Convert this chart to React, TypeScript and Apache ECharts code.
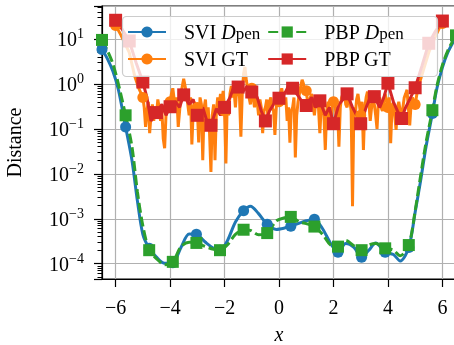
import React, { useEffect, useRef } from "react";
import * as echarts from "echarts";

const FONT = "Liberation Serif";

// D_pen curves (shared x grid)
const dpenX = [-6.5, -6.3, -6.1, -5.9, -5.633, -5.4, -5.2, -5.0, -4.767, -4.5, -4.2, -3.9, -3.6, -3.3, -3.033, -2.7, -2.4, -2.167, -1.9, -1.6, -1.3, -1.05, -0.75, -0.433, -0.1, 0.2, 0.433, 0.75, 1.0, 1.3, 1.6, 1.9, 2.167, 2.45, 2.75, 3.033, 3.3, 3.55, 3.9, 4.2, 4.45, 4.767, 5.0, 5.2, 5.4, 5.633, 5.8, 6.0, 6.2, 6.5];
const sviDpen = [5.8, 3.6, 1.9, 0.75, 0.11, 0.02, 0.0025, 4.5e-4, 2.2e-4, 1.4e-4, 1.02e-4, 1.05e-4, 2.3e-4, 4.6e-4, 4.5e-4, 3.0e-4, 2.2e-4, 2.0e-4, 3.2e-4, 8.5e-4, 1.5e-3, 1.9e-3, 1.3e-3, 7.5e-4, 5.8e-4, 6.2e-4, 6.8e-4, 8.0e-4, 9.0e-4, 9.8e-4, 6.0e-4, 2.8e-4, 1.8e-4, 2.8e-4, 2.3e-4, 1.4e-4, 2.0e-4, 2.9e-4, 1.8e-4, 1.6e-4, 1.15e-4, 2.3e-4, 1.4e-3, 0.007, 0.04, 0.22, 0.8, 2.3, 5, 11];
const pbpDpen = [9.5, 5.5, 2.8, 1.0, 0.2, 0.04, 0.004, 7e-4, 2.0e-4, 1.3e-4, 9.5e-5, 1.1e-4, 2.4e-4, 3.0e-4, 2.9e-4, 2.4e-4, 2.1e-4, 2.0e-4, 2.6e-4, 4.5e-4, 5.7e-4, 5.5e-4, 4.4e-4, 4.8e-4, 9.0e-4, 1.05e-3, 1.1e-3, 8.5e-4, 7.8e-4, 6.7e-4, 4.5e-4, 2.6e-4, 2.4e-4, 3.3e-4, 2.5e-4, 2.0e-4, 2.6e-4, 2.8e-4, 2.2e-4, 2.0e-4, 1.5e-4, 2.6e-4, 1.5e-3, 0.009, 0.05, 0.26, 0.9, 2.6, 5.5, 12];
const dpenMarkX = [-6.5, -5.633, -4.767, -3.9, -3.033, -2.167, -1.3, -0.433, 0.433, 1.3, 2.167, 3.033, 3.9, 4.767, 5.633, 6.5];

// SVI ground truth
const sviGtX = [
  -6, -5.8, -5.5, -5.3, -5.15,
  -5, -4.95, -4.9, -4.85, -4.8, -4.75, -4.7, -4.65, -4.6, -4.55,
  -4.5, -4.45, -4.4, -4.35, -4.3, -4.25, -4.2, -4.15, -4.1, -4.05,
  -4, -3.95, -3.9, -3.85, -3.8, -3.75, -3.7, -3.65, -3.6, -3.55,
  -3.5, -3.45, -3.4, -3.35, -3.3, -3.25, -3.2, -3.15, -3.1, -3.05,
  -3, -2.95, -2.9, -2.85, -2.8, -2.75, -2.7, -2.65, -2.6, -2.55,
  -2.5, -2.45, -2.4, -2.35, -2.3, -2.25, -2.2, -2.15, -2.1, -2.05,
  -2, -1.95, -1.9, -1.85, -1.8, -1.75, -1.7, -1.65, -1.6, -1.55,
  -1.5, -1.45, -1.4, -1.35, -1.3, -1.25, -1.2, -1.15, -1.1, -1.05,
  -1, -0.95, -0.9, -0.85, -0.8, -0.75, -0.7, -0.65, -0.6, -0.55,
  -0.5, -0.45, -0.4, -0.35, -0.3, -0.25, -0.2, -0.15, -0.1, -0.05,
  0, 0.05, 0.1, 0.15, 0.2, 0.25, 0.3, 0.35, 0.4, 0.45,
  0.5, 0.55, 0.6, 0.65, 0.7, 0.75, 0.8, 0.85, 0.9, 0.95,
  1, 1.05, 1.1, 1.15, 1.2, 1.25, 1.3, 1.35, 1.4, 1.45,
  1.5, 1.55, 1.6, 1.65, 1.7, 1.75, 1.8, 1.85, 1.9, 1.95,
  2, 2.05, 2.1, 2.15, 2.2, 2.25, 2.3, 2.35, 2.4, 2.45,
  2.5, 2.55, 2.6, 2.65, 2.7, 2.75, 2.8, 2.85, 2.9, 2.95,
  3, 3.05, 3.1, 3.15, 3.2, 3.25, 3.3, 3.35, 3.4, 3.45,
  3.5, 3.55, 3.6, 3.65, 3.7, 3.75, 3.8, 3.85, 3.9, 3.95,
  4, 4.05, 4.1, 4.15, 4.2, 4.25, 4.3, 4.35, 4.4, 4.45,
  4.5, 4.55, 4.6, 4.65, 4.7, 4.75, 4.8, 4.85, 4.9, 4.95,
  5, 5.1, 5.3, 5.5, 5.7, 5.9, 6,
];
const sviGt = [
  20, 12, 5, 1.5, 0.8,
  0.5, 0.3, 0.11, 0.25, 0.4, 0.08, 0.2, 0.35, 0.15, 0.3,
  0.2, 0.45, 0.3, 0.15, 0.25, 0.06, 0.037, 0.2, 0.35, 0.25,
  0.4, 0.6, 0.8, 0.45, 0.3, 0.5, 0.11, 0.25, 0.6, 0.9,
  1.3, 0.9, 0.6, 0.35, 0.2, 0.5, 0.045, 0.25, 0.4, 0.15,
  0.3, 0.05, 0.5, 0.35, 0.02, 0.3, 0.45, 0.12, 0.3, 0.08,
  0.011, 0.2, 0.35, 0.02, 0.25, 0.5, 0.3, 0.6, 0.4, 0.7,
  0.25, 0.017, 0.4, 0.2, 0.6, 0.9, 0.5, 0.7, 0.3, 0.8,
  1.0, 0.5, 0.067, 0.6, 1.7, 2.4, 1.2, 0.8, 0.5, 0.35,
  0.8, 0.5, 0.3, 0.6, 0.4, 0.2, 0.45, 0.3, 0.08, 0.25,
  0.3, 0.45, 0.15, 0.4, 0.5, 0.3, 0.25, 0.073, 0.3, 0.5,
  0.4, 0.6, 0.8, 0.5, 0.35, 0.5, 0.15, 0.3, 0.049, 0.25,
  0.3, 0.5, 0.023, 0.2, 0.4, 0.6, 0.9, 1.23, 1.0, 0.6,
  0.7, 0.4, 0.3, 0.5, 0.6, 0.35, 0.2, 0.4, 0.5, 0.3,
  0.08, 0.3, 0.45, 0.2, 0.034, 0.25, 0.4, 0.2, 0.1, 0.3,
  0.4, 0.5, 0.15, 0.3, 0.04, 0.3, 0.5, 0.6, 0.7, 0.35,
  0.3, 0.5, 0.45, 0.25, 0.0019, 0.3, 0.2, 0.45, 0.6, 0.35,
  0.2, 0.4, 0.034, 0.3, 0.5, 0.67, 0.4, 0.15, 0.3, 0.5,
  0.35, 0.2, 0.1, 0.4, 0.5, 0.3, 0.25, 0.45, 0.6, 0.4,
  0.3, 0.5, 0.048, 0.3, 0.4, 0.2, 0.095, 0.3, 0.4, 0.25,
  0.15, 0.3, 0.5, 0.6, 0.74, 0.3, 0.12, 0.35, 0.5, 0.4,
  0.35, 0.8, 2, 5, 10, 18, 22,
];
const sviGtMarkX = [-6, -5, -4, -3, -2, -1, 0, 1, 2, 3, 4, 5, 6];

// PBP ground truth
const pbpGtX = [-6, -5.75, -5.5, -5.25, -5, -4.85, -4.7, -4.5, -4.3, -4.15, -4, -3.8, -3.65, -3.5, -3.3, -3.15, -3, -2.8, -2.65, -2.5, -2.3, -2.15, -2, -1.8, -1.65, -1.5, -1.3, -1.15, -1, -0.8, -0.65, -0.5, -0.35, -0.2, 0, 0.2, 0.35, 0.5, 0.7, 0.85, 1, 1.2, 1.35, 1.5, 1.7, 1.85, 2, 2.2, 2.35, 2.5, 2.7, 2.85, 3, 3.2, 3.35, 3.5, 3.7, 3.85, 4, 4.2, 4.35, 4.5, 4.65, 4.8, 5, 5.25, 5.5, 5.75, 6];
const pbpGt = [26, 16, 9, 3, 1.1, 0.5, 0.15, 0.23, 0.35, 0.2, 0.31, 0.4, 0.3, 0.57, 0.35, 0.45, 0.2, 0.3, 0.15, 0.12, 0.28, 0.2, 0.3, 0.5, 0.9, 0.85, 0.7, 0.9, 0.66, 0.5, 0.25, 0.15, 0.25, 0.35, 0.48, 0.6, 0.9, 0.8, 0.55, 0.4, 0.33, 0.5, 0.3, 0.42, 0.2, 0.3, 0.13, 0.35, 0.45, 0.6, 0.3, 0.2, 0.13, 0.3, 0.5, 0.52, 0.3, 0.5, 1.04, 0.4, 0.25, 0.17, 0.3, 0.45, 0.82, 2.5, 8, 15, 25];
const pbpGtMarkX = [-6, -5.5, -5, -4.5, -4, -3.5, -3, -2.5, -2, -1.5, -1, -0.5, 0, 0.5, 1, 1.5, 2, 2.5, 3, 3.5, 4, 4.5, 5, 5.5, 6];

const xTicks = [-6, -4, -2, 0, 2, 4, 6];
const seriesNames = ["SVI D_pen", "SVI GT", "PBP D_pen", "PBP GT"];
const colors = ["#1f77b4", "#ff7f0e", "#2ca02c", "#d62728"];

function build(xs: number[], ys: number[], marks: number[]) {
  return xs.map((x, i) =>
    marks.includes(x) ? { value: [x, ys[i]] } : { value: [x, ys[i]], symbol: "none" }
  );
}

const minus = (s: string) => s.replace("-", "\u2212");

export default function App() {
  const ref = useRef<HTMLDivElement>(null);
  useEffect(() => {
    const chart = echarts.init(ref.current!, undefined, { renderer: "svg" });
    const legendRich = {
      g: { width: 13, lineHeight: 20 },
      n: { fontFamily: FONT, fontSize: 20, color: "#000", lineHeight: 20 },
      it: { fontFamily: FONT, fontSize: 20, fontStyle: "italic", color: "#000", lineHeight: 20 },
      sub: { fontFamily: FONT, fontSize: 17, color: "#000", lineHeight: 12, verticalAlign: "bottom" },
    };
    const legendFmt = (name: string) => {
      const [a, b] = name.split(" ");
      if (b === "D_pen") return `{g|}{n|${a} }{it|D}{sub|pen}`;
      return `{g|}{n|${a} ${b}}`;
    };
    const common = {
      type: "line",
      showAllSymbol: true,
      lineStyle: { width: 3 },
      emphasis: { disabled: true },
      z: 2,
    };
    chart.setOption({
      animation: false,
      color: colors,
      grid: {
        left: 102,
        top: 6,
        width: 354,
        height: 273,
        outerBoundsMode: "none",
        containLabel: false,
        show: true,
        borderColor: "#000",
        borderWidth: 1.2,
        backgroundColor: "transparent",
      },
      graphic: {
        elements: [
          {
            type: "rect",
            x: 0,
            y: 0,
            z: 10,
            zlevel: 0,
            silent: true,
            shape: { x: 122.5, y: 16.5, width: 315, height: 60, r: 4 },
            style: { fill: "rgba(255,255,255,0.8)", stroke: "#cccccc", lineWidth: 1.2 },
          },
        ],
      },
      legend: {
        orient: "vertical",
        left: 122,
        top: 16,
        height: 47,
        z: 20,
        padding: [6, 21, 7, 5],
        itemGap: 7,
        itemWidth: 38,
        itemHeight: 14,
        selectedMode: false,
        data: seriesNames,
        formatter: legendFmt,
        textStyle: { fontFamily: FONT, fontSize: 20, color: "#000", rich: legendRich },
      },
      xAxis: {
        type: "value",
        min: -6.5,
        max: 6.5,
        splitNumber: 6,
        name: "x",
        nameLocation: "middle",
        nameGap: 46,
        nameTextStyle: { fontFamily: FONT, fontSize: 20, lineHeight: 17, fontStyle: "italic", color: "#000" },
        axisLine: { show: true, onZero: false, lineStyle: { color: "#000", width: 1.2 } },
        axisTick: { show: true, length: 8, customValues: xTicks, lineStyle: { color: "#000", width: 1.2 } },
        axisLabel: {
          customValues: xTicks,
          margin: 18,
          fontFamily: FONT,
          fontSize: 20,
          color: "#000",
          formatter: (v: number) => minus(String(v)),
        },
        splitLine: { show: true, lineStyle: { color: "#b0b0b0", width: 1.2 } },
      },
      yAxis: {
        type: "log",
        logBase: 10,
        min: 4.57e-5,
        max: 54,
        name: "Distance",
        nameLocation: "middle",
        nameGap: 78,
        nameTextStyle: { fontFamily: FONT, fontSize: 20, color: "#000" },
        axisLine: { show: true, onZero: false, lineStyle: { color: "#000", width: 1.2 } },
        axisTick: { show: true, length: 8, lineStyle: { color: "#000", width: 1.2 } },
        minorTick: { show: true, splitNumber: 9, length: 4.5, lineStyle: { color: "#000", width: 1 } },
        axisLabel: {
          margin: 18,
          showMinLabel: false,
          showMaxLabel: false,
          formatter: (v: number) => {
            const l = Math.log10(v);
            const e = Math.round(l);
            if (Math.abs(l - e) > 1e-6) return "";
            return `{b|10}{sup|${minus(String(e))}}`;
          },
          rich: {
            b: { fontFamily: FONT, fontSize: 20, color: "#000" },
            sup: { fontFamily: FONT, fontSize: 14, color: "#000", padding: [0, 0, 10, 0] },
          },
        },
        splitLine: { show: true, lineStyle: { color: "#b0b0b0", width: 1.2 } },
      },
      series: [
        {
          ...common,
          name: seriesNames[0],
          symbol: "circle",
          symbolSize: 11,
          smooth: 0.3,
          data: build(dpenX, sviDpen, dpenMarkX),
        },
        {
          ...common,
          name: seriesNames[1],
          symbol: "circle",
          symbolSize: 11,
          data: build(sviGtX, sviGt, sviGtMarkX),
        },
        {
          ...common,
          name: seriesNames[2],
          symbol: "rect",
          symbolSize: 12,
          smooth: 0.3,
          lineStyle: { width: 3, type: [10, 4] },
          data: build(dpenX, pbpDpen, dpenMarkX),
        },
        {
          ...common,
          name: seriesNames[3],
          symbol: "rect",
          symbolSize: 13,
          data: build(pbpGtX, pbpGt, pbpGtMarkX),
        },
      ],
    });
    return () => chart.dispose();
  }, []);
  return (
    <div
      ref={ref}
      style={{ position: "fixed", left: 0, top: 0, width: 454, height: 345 }}
    />
  );
}
